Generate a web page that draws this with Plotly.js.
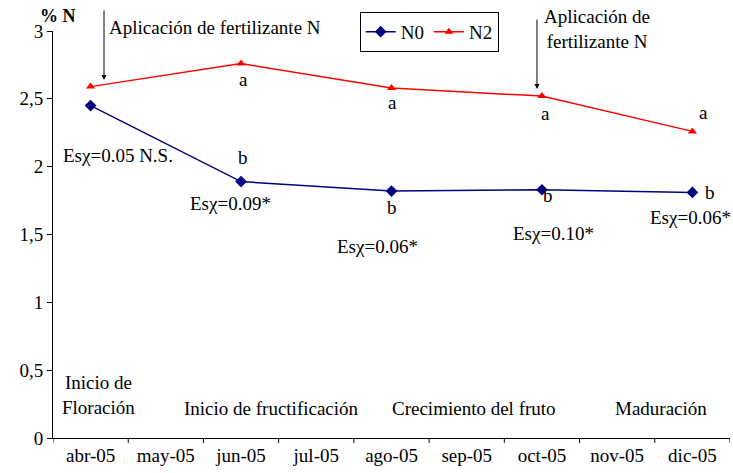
<!DOCTYPE html>
<html><head><meta charset="utf-8">
<script src="https://cdn.plot.ly/plotly-3.0.1.min.js"></script>
<style>body{margin:0;background:#fff}</style>
</head><body><div id="chart"></div>
<script>
const months = ["abr-05","may-05","jun-05","jul-05","ago-05","sep-05","oct-05","nov-05","dic-05"];
const sampleMonths = ["abr-05","jun-05","ago-05","oct-05","dic-05"];
const n0 = [2.45, 1.89, 1.82, 1.83, 1.81];
const n2 = [2.59, 2.76, 2.58, 2.52, 2.26];
const yTickVals = [0, 0.5, 1, 1.5, 2, 2.5, 3];
const yTickText = ["0", "0,5", "1", "1,5", "2", "2,5", "3"];
const letters = [
  {x: 2.03, y: 2.64, t: "a"}, {x: 4.01, y: 2.47, t: "a"}, {x: 6.05, y: 2.395, t: "a"}, {x: 8.15, y: 2.40, t: "a"},
  {x: 2.03, y: 2.07, t: "b"}, {x: 4.01, y: 1.70, t: "b"}, {x: 6.08, y: 1.79, t: "b"}, {x: 8.23, y: 1.81, t: "b"}
];
const esLabels = [
  {x: 0.364, y: 2.086, t: "Esχ=0.05 N.S."},
  {x: 1.866, y: 1.732, t: "Esχ=0.09*"},
  {x: 3.82, y: 1.408, t: "Esχ=0.06*"},
  {x: 6.16, y: 1.504, t: "Esχ=0.10*"},
  {x: 7.97, y: 1.629, t: "Esχ=0.06*"}
];
const phases = [
  {x: 0.11, y: 0.317, t: "Inicio de<br>Floración"},
  {x: 2.41, y: 0.214, t: "Inicio de fructificación"},
  {x: 5.1, y: 0.214, t: "Crecimiento del fruto"},
  {x: 7.58, y: 0.214, t: "Maduración"}
];
const F = (s) => ({family: "Times New Roman", size: s || 19, color: "#000"});
const idx = m => months.indexOf(m);

const traces = [
  {x: sampleMonths.map(idx), y: n0, name: "N0", type: "scatter", mode: "lines+markers",
   line: {color: "#000080", width: 1.5}, marker: {symbol: "diamond", size: 9, color: "#000080"}},
  {x: sampleMonths.map(idx), y: n2, name: "N2", type: "scatter", mode: "lines+markers",
   line: {color: "#ff0000", width: 1.5}, marker: {symbol: "triangle-up", size: 8, color: "#ff0000"}}
];

const ann = [];
letters.forEach(l => ann.push({x: l.x, y: l.y, text: l.t, showarrow: false, font: F(), xanchor: "center", yanchor: "middle"}));
esLabels.forEach(l => ann.push({x: l.x, y: l.y, text: l.t, showarrow: false, font: F(), xanchor: "center", yanchor: "middle"}));
phases.forEach(l => ann.push({x: l.x, y: l.y, text: l.t, showarrow: false, font: F(), xanchor: "center", yanchor: "middle"}));
ann.push({x: 0.218, y: 1.0098, yref: "paper", text: "Aplicación de fertilizante N", showarrow: false, font: F(), xanchor: "left", yanchor: "middle"});
ann.push({x: 6.73, y: 1.005, yref: "paper", text: "Aplicación de<br>fertilizante N", showarrow: false, font: F(), xanchor: "center", yanchor: "middle"});
ann.push({x: -0.44, y: 1.037, yref: "paper", text: "<b>% N</b>", showarrow: false, font: F(18), xanchor: "center", yanchor: "middle"});
ann.push({x: 0.178, y: 2.639, text: "", showarrow: true, arrowhead: 2, arrowsize: 1, arrowwidth: 1, arrowcolor: "#000", ax: 0, ay: -71});
ann.push({x: 5.934, y: 2.572, text: "", showarrow: true, arrowhead: 2, arrowsize: 1, arrowwidth: 1, arrowcolor: "#000", ax: 0, ay: -71});

const layout = {
  width: 733, height: 473,
  margin: {l: 53, r: 3, t: 31, b: 35},
  paper_bgcolor: "#fff", plot_bgcolor: "#fff",
  showlegend: true,
  legend: {orientation: "h", x: 0.453, y: 1.047, xanchor: "left", yanchor: "top",
           bordercolor: "#000", borderwidth: 1, font: F(), bgcolor: "#fff"},
  xaxis: {type: "linear", range: [-0.5, 8.5], tickvals: months.map((m, i) => i), ticktext: months,
          showgrid: false, zeroline: false, showline: true, linecolor: "#000", linewidth: 1,
          ticks: "", tickfont: F()},
  yaxis: {range: [0, 3], tickvals: yTickVals, ticktext: yTickText, showgrid: false, zeroline: false,
          showline: true, linecolor: "#000", linewidth: 1, ticks: "outside", ticklen: 5, tickcolor: "#000",
          tickfont: F()},
  shapes: months.concat([""]).map((m, i) => ({type: "line", xref: "x", yref: "paper", x0: i - 0.5, x1: i - 0.5,
          y0: 0, y1: -0.012, line: {color: "#000", width: 1}})),
  annotations: ann
};
Plotly.newPlot("chart", traces, layout, {displayModeBar: false});
</script></body></html>
